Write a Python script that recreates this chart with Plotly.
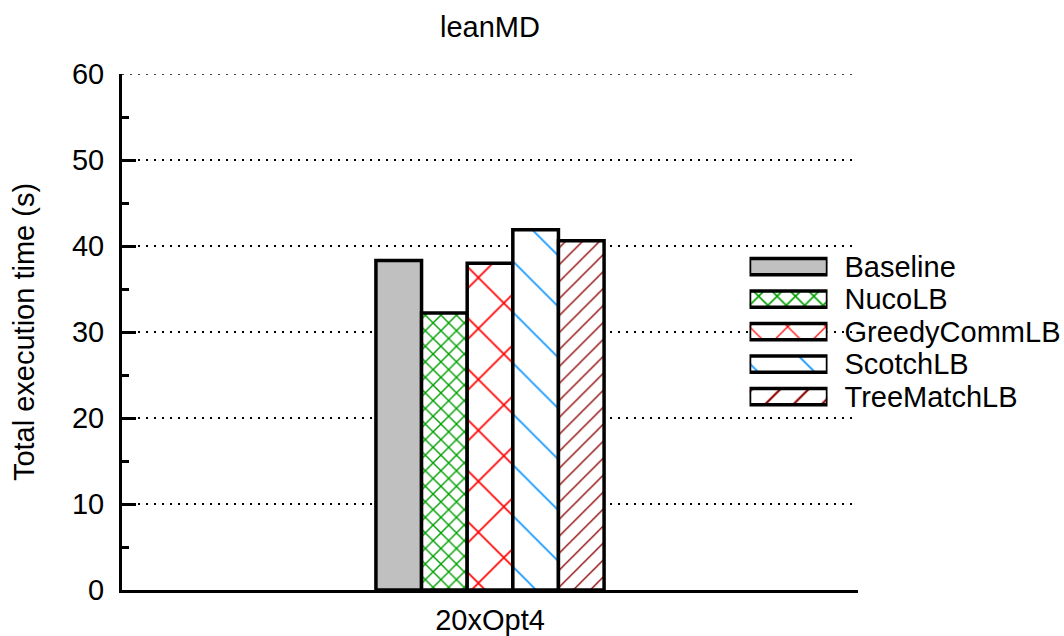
import plotly.graph_objects as go

# Benchmark data
category = ["20xOpt4"]
strategies = ["Baseline", "NucoLB", "GreedyCommLB", "ScotchLB", "TreeMatchLB"]
exec_times = [38.3, 32.2, 38.0, 41.9, 40.6]

# Fill styles for each strategy
fill_colors = ["#c0c0c0", "white", "white", "white", "white"]
hatch_shapes = ["", "x", "x", "\\", "/"]
hatch_colors = ["#c0c0c0", "#00a000", "#ff0000", "#0f96ff", "#8c0000"]
hatch_sizes = [10, 11, 36, 36, 12]
key_hatch_sizes = [10, 13, 27, 40, 20]
hatch_solidity = [0.2, 0.24, 0.09, 0.045, 0.11]

y_ticks = [0, 10, 20, 30, 40, 50, 60]

FONT = "Liberation Sans"
FS = 29
OUTLINE = 3.5

fig = go.Figure()

for name, val, fc, hs, hc, hz, sol in zip(strategies, exec_times, fill_colors,
                                          hatch_shapes, hatch_colors, hatch_sizes,
                                          hatch_solidity):
    fig.add_trace(go.Bar(
        x=category, y=[val], name=name, showlegend=False,
        marker=dict(
            color=fc,
            line=dict(color="black", width=OUTLINE),
            pattern=dict(shape=hs, fgcolor=hc, bgcolor=fc, size=hz,
                         solidity=sol, fillmode="replace"),
        ),
        hoverinfo="name+y",
    ))

# Key: one swatch per strategy, drawn as horizontal bars in a small inset axis
SWATCH_LENGTH = 1
for name, fc, hs, hc, hz, sol in zip(strategies, fill_colors, hatch_shapes,
                                     hatch_colors, key_hatch_sizes, hatch_solidity):
    fig.add_trace(go.Bar(
        x=[SWATCH_LENGTH], y=[name], orientation="h", width=0.5, offset=-0.25,
        xaxis="x2", yaxis="y2", showlegend=False, hoverinfo="skip",
        marker=dict(
            color=fc,
            line=dict(color="black", width=OUTLINE),
            pattern=dict(shape=hs, fgcolor=hc, bgcolor=fc, size=hz,
                         solidity=sol, fillmode="replace"),
        ),
    ))

grid_dash = "2px,6px"

fig.update_layout(
    width=1064, height=636,
    margin=dict(l=122, r=206, t=74, b=46, autoexpand=False),
    paper_bgcolor="white", plot_bgcolor="white",
    font=dict(family=FONT, size=FS, color="black"),
    barmode="group", bargap=0.69, bargroupgap=0,
    title=dict(text="leanMD", x=0.5, xref="paper", xanchor="center",
               y=1 - 27 / 636, yref="container", yanchor="middle",
               font=dict(family=FONT, size=FS, color="black")),
    xaxis=dict(
        type="category", range=[-0.5, 0.5], showline=True, linecolor="black",
        linewidth=3, ticks="", showgrid=False, zeroline=False,
        ticklabelstandoff=2, automargin=False,
        tickfont=dict(family=FONT, size=FS, color="black"),
    ),
    yaxis=dict(
        range=[0, 60], tickvals=y_ticks, ticks="inside", ticklen=14, tickwidth=3,
        tickcolor="black", showline=True, linecolor="black", linewidth=3,
        showgrid=True, gridcolor="black", griddash=grid_dash, gridwidth=1.5,
        zeroline=False, ticklabelstandoff=9, automargin=False,
        minor=dict(ticks="inside", ticklen=7, tickwidth=3, tickcolor="black",
                   dtick=5, tick0=0, showgrid=False),
        tickfont=dict(family=FONT, size=FS, color="black"),
        title=dict(text="Total execution time (s)", standoff=29,
                   font=dict(family=FONT, size=FS, color="black")),
    ),
    xaxis2=dict(domain=[0.8526, 0.9586], anchor="y2", range=[0, 1], visible=False),
    yaxis2=dict(
        domain=[0.3435, 0.6584], anchor="x2", side="right", type="category",
        categoryorder="array", categoryarray=strategies, range=[4.5, -0.5],
        tickmode="array", tickvals=strategies, ticktext=strategies,
        showline=False, ticks="", showgrid=False, zeroline=False,
        ticklabelstandoff=16, automargin=False,
        tickfont=dict(family=FONT, size=FS, color="black"),
    ),
    shapes=[
        # white backing behind the key
        dict(type="rect", xref="x2 domain", yref="y2 domain",
             x0=-0.15, x1=1.39, y0=0, y1=1, fillcolor="white",
             line=dict(width=0), layer="below"),
        # grid line along the top of the value range
        dict(type="line", xref="paper", yref="y", x0=0, x1=1,
             y0=y_ticks[-1], y1=y_ticks[-1],
             line=dict(color="black", width=1.5, dash=grid_dash), layer="below"),
    ],
)

fig.write_html("out.html")
